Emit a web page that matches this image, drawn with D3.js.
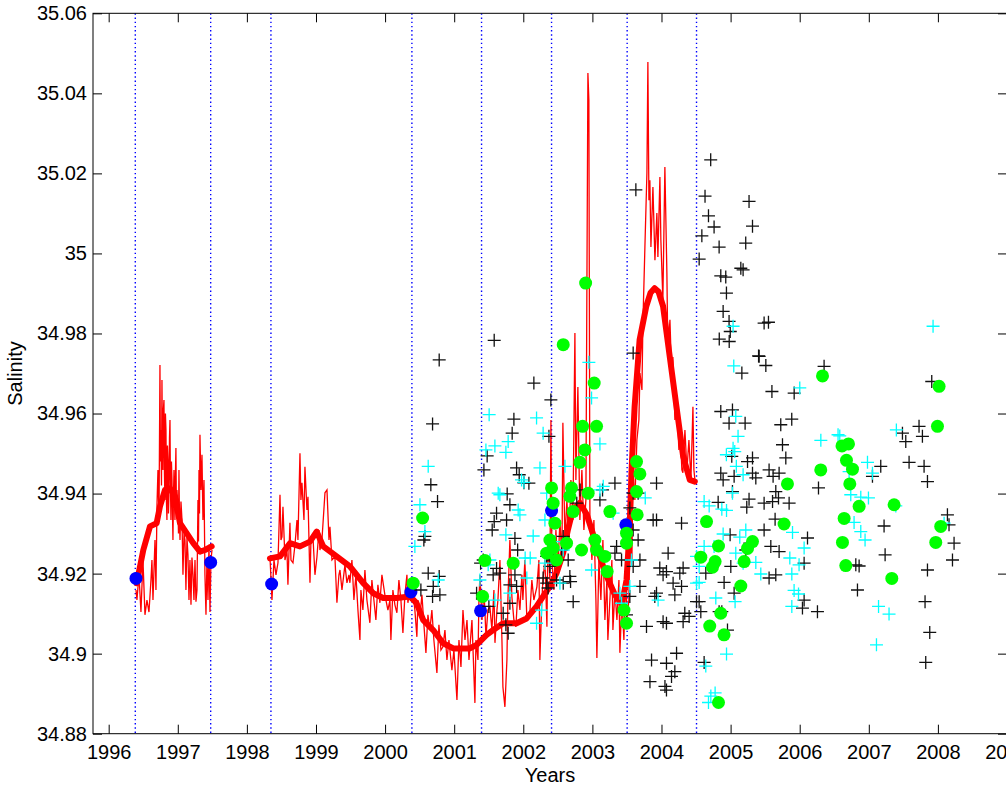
<!DOCTYPE html>
<html>
<head>
<meta charset="utf-8">
<script src="https://cdn.jsdelivr.net/npm/d3@7"></script>
<style>
  body { margin: 0; background: #fff; }
  svg { display: block; background: #fff; }
</style>
</head>
<body>
<svg width="1006" height="787"></svg>
<script>

// ---- data (decimal years, salinity) ----

let xTicks = [1996, 1997, 1998, 1999, 2000, 2001, 2002, 2003, 2004, 2005, 2006, 2007, 2008, 2009];
let yTicks = [34.88, 34.9, 34.92, 34.94, 34.96, 34.98, 35, 35.02, 35.04, 35.06];
let yTickLabels = ['34.88', '34.9', '34.92', '34.94', '34.96', '34.98', '35', '35.02', '35.04', '35.06'];

// mooring deployment / recovery dates
let cruiseDates = [1996.385, 1997.476, 1998.348, 2000.388, 2001.396, 2002.409, 2003.503, 2004.507];

// CTD salinity at the cruise dates
let cruiseSalinity = [
  [1996.395, 34.9188], [1997.476, 34.9228], [1998.358, 34.9174], [2000.374, 34.9154],
  [2001.382, 34.9107], [2002.409, 34.9357], [2003.484, 34.9322]
];

// smoothed mooring record
let smooth1 = [
  [1996.405, 34.9176], [1996.501, 34.9259], [1996.598, 34.9318], [1996.694, 34.9326], [1996.742, 34.9368],
  [1996.815, 34.9409], [1996.887, 34.9413], [1996.959, 34.9393], [1997.032, 34.9326], [1997.128, 34.9301],
  [1997.224, 34.9276], [1997.321, 34.9255], [1997.393, 34.9259], [1997.490, 34.9268]
];
let smooth2 = [
  [1998.334, 34.9238], [1998.479, 34.9243], [1998.623, 34.9276], [1998.768, 34.9268], [1998.913, 34.9280],
  [1999.009, 34.9305], [1999.105, 34.9268], [1999.299, 34.9243], [1999.491, 34.9218], [1999.684, 34.9176],
  [1999.828, 34.9151], [1999.973, 34.9139], [2000.167, 34.9139], [2000.359, 34.9143], [2000.456, 34.9126],
  [2000.552, 34.9084], [2000.696, 34.9059], [2000.841, 34.9026], [2000.986, 34.9013], [2001.227, 34.9013],
  [2001.324, 34.9022], [2001.469, 34.9047], [2001.564, 34.9059], [2001.709, 34.9076], [2001.903, 34.9076],
  [2002.048, 34.9088], [2002.192, 34.9118], [2002.287, 34.9143], [2002.385, 34.9168], [2002.481, 34.9201],
  [2002.577, 34.9252], [2002.645, 34.9309], [2002.717, 34.9359], [2002.819, 34.9377], [2002.920, 34.9347],
  [2003.036, 34.9284], [2003.180, 34.9204], [2003.325, 34.9147], [2003.427, 34.9124], [2003.494, 34.9184],
  [2003.538, 34.9309], [2003.567, 34.9459], [2003.611, 34.9617], [2003.683, 34.9784], [2003.780, 34.9868],
  [2003.842, 34.9902], [2003.900, 34.9913], [2003.958, 34.9904], [2004.023, 34.9868], [2004.119, 34.9743],
  [2004.216, 34.9618], [2004.313, 34.9493], [2004.410, 34.9434], [2004.482, 34.9430]
];

// raw mooring record
let raw1 = [
  [1996.395, 34.9159], [1996.409, 34.9134], [1996.438, 34.9197], [1996.467, 34.9104], [1996.496, 34.9234],
  [1996.525, 34.9097], [1996.554, 34.9134], [1996.583, 34.9104], [1996.612, 34.9184], [1996.626, 34.9234],
  [1996.641, 34.9134], [1996.670, 34.9284], [1996.684, 34.9159], [1996.699, 34.9372], [1996.713, 34.9459],
  [1996.728, 34.9334], [1996.742, 34.9721], [1996.749, 34.9480], [1996.756, 34.9559], [1996.764, 34.9420],
  [1996.771, 34.9684], [1996.778, 34.9500], [1996.785, 34.9459], [1996.792, 34.9610], [1996.800, 34.9634],
  [1996.807, 34.9450], [1996.814, 34.9384], [1996.821, 34.9600], [1996.829, 34.9559], [1996.836, 34.9380],
  [1996.843, 34.9334], [1996.850, 34.9520], [1996.858, 34.9484], [1996.865, 34.9350], [1996.872, 34.9397],
  [1996.880, 34.9540], [1996.887, 34.9584], [1996.894, 34.9420], [1996.901, 34.9334], [1996.908, 34.9480],
  [1996.916, 34.9434], [1996.923, 34.9350], [1996.930, 34.9284], [1996.938, 34.9400], [1996.945, 34.9459],
  [1996.952, 34.9380], [1996.959, 34.9334], [1996.966, 34.9450], [1996.973, 34.9514], [1996.980, 34.9360],
  [1996.988, 34.9409], [1997.003, 34.9359], [1997.010, 34.9300], [1997.017, 34.9459], [1997.025, 34.9330],
  [1997.032, 34.9284], [1997.046, 34.9380], [1997.061, 34.9334], [1997.075, 34.9197], [1997.090, 34.9300],
  [1997.104, 34.9284], [1997.118, 34.9159], [1997.133, 34.9290], [1997.147, 34.9247], [1997.162, 34.9134],
  [1997.176, 34.9234], [1997.191, 34.9122], [1997.205, 34.9240], [1997.220, 34.9197], [1997.234, 34.9134],
  [1997.249, 34.9234], [1997.263, 34.9130], [1997.278, 34.9159], [1997.292, 34.9384], [1997.300, 34.9280],
  [1997.307, 34.9459], [1997.314, 34.9350], [1997.321, 34.9547], [1997.336, 34.9409], [1997.350, 34.9497],
  [1997.364, 34.9334], [1997.379, 34.9434], [1997.393, 34.9197], [1997.408, 34.9097], [1997.422, 34.9234],
  [1997.437, 34.9134], [1997.451, 34.9272], [1997.466, 34.9104], [1997.480, 34.9234], [1997.495, 34.9259]
];
let raw2 = [
  [1998.334, 34.9242], [1998.363, 34.9134], [1998.392, 34.9234], [1998.421, 34.9197], [1998.450, 34.9227],
  [1998.479, 34.9397], [1998.493, 34.9284], [1998.508, 34.9292], [1998.522, 34.9367], [1998.551, 34.9234],
  [1998.580, 34.9259], [1998.594, 34.9172], [1998.623, 34.9327], [1998.638, 34.9234], [1998.667, 34.9227],
  [1998.696, 34.9272], [1998.725, 34.9334], [1998.739, 34.9284], [1998.768, 34.9501], [1998.782, 34.9384],
  [1998.797, 34.9427], [1998.826, 34.9334], [1998.840, 34.9467], [1998.869, 34.9359], [1998.884, 34.9392],
  [1998.913, 34.9177], [1998.927, 34.9284], [1998.956, 34.9292], [1998.985, 34.9197], [1999.014, 34.9242],
  [1999.043, 34.9309], [1999.057, 34.9259], [1999.086, 34.9284], [1999.130, 34.9402], [1999.159, 34.9409],
  [1999.188, 34.9284], [1999.202, 34.9317], [1999.231, 34.9234], [1999.274, 34.9242], [1999.303, 34.9127],
  [1999.332, 34.9197], [1999.347, 34.9209], [1999.376, 34.9159], [1999.419, 34.9222], [1999.448, 34.9177],
  [1999.477, 34.9197], [1999.491, 34.9177], [1999.520, 34.9234], [1999.549, 34.9134], [1999.578, 34.9197],
  [1999.607, 34.9109], [1999.636, 34.9034], [1999.650, 34.9159], [1999.679, 34.9109], [1999.708, 34.9209],
  [1999.737, 34.9134], [1999.780, 34.9077], [1999.809, 34.9184], [1999.838, 34.9134], [1999.867, 34.9084],
  [1999.896, 34.9172], [1999.925, 34.9127], [1999.954, 34.9197], [1999.997, 34.9147], [2000.041, 34.9109],
  [2000.070, 34.9134], [2000.084, 34.9034], [2000.113, 34.9159], [2000.142, 34.9122], [2000.171, 34.9102],
  [2000.200, 34.9184], [2000.229, 34.9134], [2000.258, 34.9052], [2000.287, 34.9147], [2000.316, 34.9197],
  [2000.330, 34.9127], [2000.359, 34.9159], [2000.388, 34.9184], [2000.402, 34.9152], [2000.431, 34.9109],
  [2000.460, 34.9042], [2000.475, 34.9134], [2000.504, 34.9092], [2000.533, 34.9147], [2000.562, 34.9072],
  [2000.591, 34.9002], [2000.620, 34.9097], [2000.648, 34.9059], [2000.677, 34.9109], [2000.706, 34.9034],
  [2000.750, 34.8952], [2000.779, 34.9072], [2000.808, 34.9009], [2000.837, 34.9017], [2000.866, 34.9059],
  [2000.895, 34.8984], [2000.924, 34.9034], [2000.967, 34.8959], [2000.996, 34.9009], [2001.040, 34.8884],
  [2001.069, 34.9034], [2001.098, 34.8967], [2001.127, 34.9109], [2001.156, 34.9034], [2001.185, 34.9084],
  [2001.214, 34.8984], [2001.228, 34.9017], [2001.257, 34.9084], [2001.300, 34.8877], [2001.315, 34.9034],
  [2001.344, 34.8984], [2001.358, 34.9134], [2001.373, 34.9197], [2001.402, 34.9084], [2001.431, 34.9159],
  [2001.460, 34.9042], [2001.488, 34.9109], [2001.517, 34.9117], [2001.546, 34.9059], [2001.575, 34.9159],
  [2001.590, 34.9027], [2001.619, 34.9109], [2001.633, 34.9134], [2001.662, 34.9234], [2001.691, 34.9034],
  [2001.705, 34.8917], [2001.734, 34.8867], [2001.763, 34.8984], [2001.777, 34.9134], [2001.806, 34.9284],
  [2001.835, 34.9142], [2001.864, 34.9084], [2001.893, 34.9067], [2001.922, 34.9159], [2001.951, 34.9109],
  [2001.980, 34.9197], [2001.994, 34.9134], [2002.023, 34.9234], [2002.052, 34.9084], [2002.095, 34.9102],
  [2002.124, 34.9184], [2002.153, 34.9134], [2002.197, 34.9167], [2002.226, 34.9234], [2002.240, 34.8984],
  [2002.269, 34.9134], [2002.284, 34.9184], [2002.313, 34.9234], [2002.342, 34.9067], [2002.356, 34.9284],
  [2002.385, 34.9184], [2002.400, 34.9584], [2002.414, 34.9234], [2002.443, 34.9159], [2002.472, 34.9309],
  [2002.501, 34.9209], [2002.530, 34.9334], [2002.559, 34.9234], [2002.573, 34.9577], [2002.602, 34.9284],
  [2002.631, 34.9384], [2002.660, 34.9272], [2002.689, 34.9434], [2002.718, 34.9334], [2002.747, 34.9801],
  [2002.761, 34.9434], [2002.790, 34.9666], [2002.819, 34.9334], [2002.848, 34.9459], [2002.877, 34.9309],
  [2002.906, 34.9384], [2002.935, 35.0451], [2002.949, 35.0384], [2002.964, 34.9334], [2002.993, 34.9234],
  [2003.022, 34.9334], [2003.051, 34.9134], [2003.065, 34.8989], [2003.094, 34.9234], [2003.123, 34.9134],
  [2003.152, 34.9284], [2003.181, 34.9084], [2003.210, 34.9184], [2003.224, 34.9034], [2003.253, 34.9134],
  [2003.282, 34.9234], [2003.297, 34.9059], [2003.326, 34.9159], [2003.355, 34.9084], [2003.384, 34.9184],
  [2003.398, 34.9002], [2003.427, 34.9134], [2003.456, 34.9034], [2003.485, 34.9234], [2003.499, 34.9084],
  [2003.528, 34.9134], [2003.543, 34.9334], [2003.572, 34.9234], [2003.586, 34.9459], [2003.615, 34.9384],
  [2003.644, 34.9534], [2003.673, 34.9584], [2003.688, 34.9701], [2003.717, 34.9659], [2003.731, 34.9826],
  [2003.760, 35.0016], [2003.789, 35.0201], [2003.803, 35.0478], [2003.818, 35.0133], [2003.832, 35.0183],
  [2003.847, 35.0016], [2003.876, 35.0166], [2003.905, 34.9983], [2003.933, 35.0101], [2003.948, 34.9991],
  [2003.977, 35.0191], [2003.991, 35.0033], [2004.020, 34.9884], [2004.049, 35.0216], [2004.078, 34.9951],
  [2004.093, 34.9741], [2004.122, 34.9834], [2004.150, 34.9684], [2004.165, 34.9741], [2004.194, 34.9584],
  [2004.223, 34.9617], [2004.252, 34.9509], [2004.266, 34.9576], [2004.295, 34.9459], [2004.310, 34.9452],
  [2004.339, 34.9559], [2004.368, 34.9459], [2004.397, 34.9534], [2004.426, 34.9434], [2004.455, 34.9617],
  [2004.469, 34.9459], [2004.484, 34.9434]
];

// profile data (black +)
let blackProfiles = [
  [2001.579, 34.9783], [2000.783, 34.9734], [2002.153, 34.9676], [2002.399, 34.9634], [2000.687, 34.9574],
  [2001.864, 34.9586], [2001.839, 34.9551], [2002.371, 34.9543], [2003.590, 34.9751], [2001.477, 34.9494],
  [2001.430, 34.9459], [2001.903, 34.9464], [2001.941, 34.9447], [2002.009, 34.9427], [2002.081, 34.9426],
  [2000.662, 34.9422], [2000.759, 34.9380], [2001.767, 34.9399], [2001.806, 34.9372], [2001.758, 34.9334],
  [2001.613, 34.9351], [2001.579, 34.9330], [2001.550, 34.9309], [2001.879, 34.9288], [2000.576, 34.9293],
  [2000.561, 34.9284], [2001.918, 34.9259], [2001.420, 34.9234], [2001.382, 34.9226], [2001.613, 34.9213],
  [2001.661, 34.9201], [2000.624, 34.9201], [2000.783, 34.9193], [2000.697, 34.9168], [2000.793, 34.9147],
  [2000.687, 34.9143], [2000.518, 34.9159], [2001.324, 34.9151], [2001.502, 34.9118], [2001.709, 34.9101],
  [2001.748, 34.9072], [2001.781, 34.9051], [2001.903, 34.9168], [2001.879, 34.9197], [2002.578, 34.9293],
  [2002.555, 34.9259], [2002.650, 34.9234], [2002.338, 34.9243], [2002.385, 34.9218], [2002.433, 34.9234],
  [2002.674, 34.9193], [2002.684, 34.9180], [2002.722, 34.9130], [2002.338, 34.9176], [2002.822, 34.9409],
  [2002.774, 34.9376], [2003.109, 34.9384], [2003.326, 34.9426], [2003.147, 34.9409], [2002.578, 34.9176],
  [2003.928, 34.9426], [2003.590, 34.9401], [2003.662, 34.9401], [2003.542, 34.9364], [2003.590, 34.9309],
  [2003.662, 34.9284], [2003.350, 34.9268], [2003.422, 34.9234], [2003.326, 34.9251], [2003.688, 34.9234],
  [2003.590, 34.9218], [2003.688, 34.9168], [2003.542, 34.9143], [2003.928, 34.9334], [2003.879, 34.9334],
  [2004.290, 34.9326], [2004.096, 34.9251], [2003.975, 34.9214], [2004.072, 34.9205], [2004.023, 34.9197],
  [2004.265, 34.9201], [2004.313, 34.9214], [2004.168, 34.9176], [2004.290, 34.9168], [2003.928, 34.9151],
  [2003.903, 34.9143], [2004.193, 34.9147], [2004.507, 34.9130], [2003.783, 34.9068], [2004.023, 34.9080],
  [2004.072, 34.9076], [2004.337, 34.9101], [2004.313, 34.9080], [2003.494, 34.9097], [2003.856, 34.8984],
  [2004.218, 34.9001], [2004.072, 34.8976], [2004.193, 34.8955], [2004.145, 34.8943], [2003.833, 34.8930],
  [2004.050, 34.8918], [2004.072, 34.8909], [2002.287, 34.9189], [2002.359, 34.9164], [2001.564, 34.9197],
  [2001.806, 34.9126], [2001.806, 34.9172], [2002.481, 34.9184], [2003.629, 35.0159],
  [2004.712, 35.0234], [2004.630, 35.0143], [2005.267, 35.0130], [2004.680, 35.0094], [2004.761, 35.0066],
  [2005.317, 35.0068], [2004.584, 35.0044], [2004.834, 35.0016], [2005.219, 35.0026], [2004.545, 34.9986],
  [2005.148, 34.9963], [2005.181, 34.9959], [2004.858, 34.9944], [2004.930, 34.9941], [2004.940, 34.9901],
  [2004.892, 34.9855], [2004.978, 34.9830], [2005.485, 34.9826], [2005.548, 34.9828], [2004.995, 34.9805],
  [2004.836, 34.9786], [2004.980, 34.9780], [2005.405, 34.9744], [2005.413, 34.9743], [2005.510, 34.9720],
  [2005.163, 34.9701], [2006.353, 34.9718], [2005.598, 34.9655], [2005.920, 34.9651], [2007.911, 34.9680],
  [2004.858, 34.9605], [2005.027, 34.9609], [2004.978, 34.9576], [2005.210, 34.9576], [2005.726, 34.9572],
  [2005.885, 34.9586], [2007.727, 34.9568], [2007.487, 34.9551], [2007.776, 34.9543], [2005.751, 34.9522],
  [2005.799, 34.9489], [2005.017, 34.9493], [2005.317, 34.9489], [2005.245, 34.9480], [2004.858, 34.9451],
  [2005.051, 34.9443], [2004.892, 34.9434], [2005.317, 34.9451], [2005.365, 34.9439], [2005.557, 34.9459],
  [2005.615, 34.9443], [2005.702, 34.9451], [2005.654, 34.9405], [2005.693, 34.9389], [2005.027, 34.9405],
  [2005.267, 34.9386], [2005.234, 34.9366], [2005.485, 34.9376], [2005.607, 34.9380], [2005.847, 34.9376],
  [2004.820, 34.9378], [2005.644, 34.9336], [2005.485, 34.9309], [2004.993, 34.9297], [2005.278, 34.9276],
  [2005.220, 34.9259], [2005.582, 34.9268], [2005.702, 34.9255], [2006.113, 34.9289], [2006.064, 34.9226],
  [2005.003, 34.9218], [2004.641, 34.9201], [2005.557, 34.9189], [2005.654, 34.9197], [2004.906, 34.9178],
  [2005.051, 34.9151], [2006.064, 34.9134], [2006.040, 34.9114], [2006.257, 34.9105], [2004.545, 34.9130],
  [2004.569, 34.9105], [2004.834, 34.9105], [2004.873, 34.9105], [2004.955, 34.9059], [2004.400, 34.9093],
  [2004.617, 34.8978], [2006.272, 34.9414], [2007.173, 34.9468], [2007.053, 34.9443], [2007.583, 34.9478],
  [2007.800, 34.9468], [2007.849, 34.9430], [2007.535, 34.9530], [2007.221, 34.9319], [2007.236, 34.9247],
  [2006.812, 34.9222], [2006.860, 34.9219], [2006.836, 34.9159], [2008.138, 34.9347], [2008.161, 34.9322],
  [2008.234, 34.9276], [2008.211, 34.9234], [2007.849, 34.9209], [2007.814, 34.9130], [2007.882, 34.9053],
  [2007.824, 34.8978]
];

// profile data (cyan +)
let cyanProfiles = [
  [2002.949, 34.9728], [2002.988, 34.9639], [2003.109, 34.9524], [2001.506, 34.9597], [2002.192, 34.9589],
  [2002.287, 34.9551], [2000.624, 34.9468], [2001.459, 34.9509], [2001.589, 34.9519], [2001.748, 34.9503],
  [2001.781, 34.9530], [2002.241, 34.9464], [2002.603, 34.9468], [2000.504, 34.9372], [2000.576, 34.9305],
  [2000.431, 34.9268], [2001.637, 34.9401], [2001.661, 34.9397], [2001.975, 34.9434], [2002.009, 34.9428],
  [2001.926, 34.9359], [2001.951, 34.9347], [2001.748, 34.9297], [2002.143, 34.9294], [2002.338, 34.9401],
  [2002.313, 34.9334], [2002.458, 34.9280], [2002.578, 34.9259], [2003.157, 34.9418], [2003.765, 34.9389],
  [2003.300, 34.9351], [2001.517, 34.9234], [2001.372, 34.9184], [2001.492, 34.9222], [2002.027, 34.9239],
  [2002.100, 34.9239], [2002.313, 34.9226], [2002.051, 34.9189], [2001.806, 34.9151], [2001.589, 34.9134],
  [2002.530, 34.9176], [2002.988, 34.9209], [2003.398, 34.9151], [2003.422, 34.9126], [2003.542, 34.9168],
  [2003.566, 34.9234], [2002.264, 34.9109], [2002.192, 34.9076], [2003.951, 34.9134], [2004.507, 34.9243],
  [2004.507, 34.9176], [2000.769, 34.9184], [2003.109, 34.9409],
  [2005.036, 34.9818], [2005.046, 34.9719], [2006.001, 34.9664], [2007.930, 34.9818], [2005.075, 34.9593],
  [2005.108, 34.9543], [2006.555, 34.9547], [2007.399, 34.9559], [2005.036, 34.9513], [2004.939, 34.9497],
  [2005.060, 34.9505], [2005.083, 34.9468], [2005.181, 34.9447], [2005.027, 34.9401], [2004.617, 34.9380],
  [2004.690, 34.9369], [2004.873, 34.9361], [2004.941, 34.9358], [2005.220, 34.9309], [2005.133, 34.9291],
  [2004.892, 34.9299], [2004.617, 34.9268], [2004.761, 34.9268], [2005.075, 34.9251], [2005.181, 34.9226],
  [2005.365, 34.9228], [2005.437, 34.9199], [2004.545, 34.9218], [2004.545, 34.9178], [2004.786, 34.9139],
  [2005.065, 34.9130], [2005.896, 34.9303], [2006.064, 34.9264], [2005.857, 34.9239], [2005.886, 34.9199],
  [2005.991, 34.9222], [2005.919, 34.9158], [2005.983, 34.9149], [2005.886, 34.9118], [2006.306, 34.9533],
  [2006.580, 34.9544], [2006.715, 34.9455], [2006.981, 34.9478], [2007.053, 34.9451], [2006.739, 34.9397],
  [2006.995, 34.9389], [2006.884, 34.9391], [2006.787, 34.9328], [2006.884, 34.9305], [2006.946, 34.9284],
  [2007.391, 34.9369], [2007.141, 34.9118], [2007.293, 34.9099], [2007.111, 34.9022], [2008.090, 34.9326],
  [2004.941, 34.8999], [2004.641, 34.8969], [2004.776, 34.8902], [2004.714, 34.8894], [2004.680, 34.8878]
];

// profile data (green dots)
let greenProfiles = [
  [2002.578, 34.9772], [2002.902, 34.9926], [2003.026, 34.9676], [2002.858, 34.9568], [2003.060, 34.9568],
  [2002.891, 34.9509], [2002.819, 34.9478], [2002.409, 34.9414], [2002.698, 34.9414], [2002.939, 34.9401],
  [2002.674, 34.9393], [2002.432, 34.9376], [2002.722, 34.9355], [2002.457, 34.9326], [2003.253, 34.9355],
  [2003.639, 34.9480], [2003.687, 34.9449], [2003.639, 34.9405], [2003.648, 34.9347], [2003.494, 34.9301],
  [2003.494, 34.9276], [2002.385, 34.9284], [2002.433, 34.9264], [2002.626, 34.9276], [2002.481, 34.9234],
  [2002.338, 34.9251], [2002.843, 34.9259], [2003.036, 34.9284], [2003.060, 34.9259], [2003.180, 34.9243],
  [2003.214, 34.9205], [2001.854, 34.9226], [2001.444, 34.9233], [2001.411, 34.9143], [2000.543, 34.9339],
  [2000.407, 34.9176], [2003.457, 34.9109], [2003.494, 34.9076],
  [2006.330, 34.9694], [2008.017, 34.9668], [2007.994, 34.9568], [2006.612, 34.9519], [2006.706, 34.9524],
  [2006.305, 34.9459], [2006.677, 34.9483], [2006.764, 34.9461], [2006.725, 34.9424], [2005.823, 34.9424],
  [2006.860, 34.9368], [2007.366, 34.9372], [2006.643, 34.9338], [2005.774, 34.9324], [2004.652, 34.9330],
  [2008.041, 34.9318], [2007.969, 34.9278], [2006.619, 34.9278], [2006.667, 34.9220], [2007.333, 34.9188],
  [2005.317, 34.9280], [2005.245, 34.9263], [2004.825, 34.9269], [2004.569, 34.9241], [2004.776, 34.9230],
  [2004.738, 34.9216], [2005.196, 34.9230], [2005.148, 34.9169], [2004.858, 34.9101], [2004.698, 34.9069],
  [2004.905, 34.9047], [2004.825, 34.8878]
];


// ---- chart ----

let svg = d3.select('svg');
let font = '"Liberation Sans", Arial, Helvetica, sans-serif';

let box = { left: 93, right: 1007, top: 13.3, bottom: 733.7 };

let x = d3.scaleLinear()
    .domain([1995.773, 2009])
    .range([box.left, box.right]);

let y = d3.scaleLinear()
    .domain([34.88, 35.06])
    .range([box.bottom, box.top]);

svg.append('rect')
    .attr('width', 1006).attr('height', 787)
    .attr('fill', '#fff');

svg.append('clipPath').attr('id', 'plot')
    .append('rect')
    .attr('x', box.left).attr('y', box.top)
    .attr('width', box.right - box.left).attr('height', box.bottom - box.top);

let plot = svg.append('g').attr('clip-path', 'url(#plot)');

// dotted cruise lines
plot.append('g').selectAll('line')
    .data(cruiseDates)
    .enter().append('line')
    .attr('x1', d => x(d)).attr('x2', d => x(d))
    .attr('y1', y(35.06)).attr('y2', y(34.88))
    .attr('stroke', '#0000ff')
    .attr('stroke-width', 1.4)
    .attr('stroke-dasharray', '1.4,2.8');

let line = d3.line()
    .x(d => x(d[0]))
    .y(d => y(d[1]));

// raw and smoothed mooring salinity
plot.append('g').selectAll('path')
    .data([raw1, raw2])
    .enter().append('path')
    .attr('d', line)
    .attr('fill', 'none')
    .attr('stroke', '#ff0000')
    .attr('stroke-width', 1.3);

plot.append('g').selectAll('path')
    .data([smooth1, smooth2])
    .enter().append('path')
    .attr('d', line)
    .attr('fill', 'none')
    .attr('stroke', '#ff0000')
    .attr('stroke-width', 6)
    .attr('stroke-linejoin', 'round')
    .attr('stroke-linecap', 'round');

// CTD at cruise dates
plot.append('g').selectAll('circle')
    .data(cruiseSalinity)
    .enter().append('circle')
    .attr('cx', d => x(d[0]))
    .attr('cy', d => y(d[1]))
    .attr('r', 6.5)
    .attr('fill', '#0000ff');

let cross = 'M-6.5,0H6.5M0,-6.5V6.5';

plot.append('g').selectAll('path')
    .data(blackProfiles)
    .enter().append('path')
    .attr('transform', d => 'translate(' + x(d[0]) + ',' + y(d[1]) + ')')
    .attr('d', cross)
    .attr('stroke', '#111')
    .attr('stroke-width', 1.3);

plot.append('g').selectAll('path')
    .data(cyanProfiles)
    .enter().append('path')
    .attr('transform', d => 'translate(' + x(d[0]) + ',' + y(d[1]) + ')')
    .attr('d', cross)
    .attr('stroke', '#00ffff')
    .attr('stroke-width', 1.3);

plot.append('g').selectAll('circle')
    .data(greenProfiles)
    .enter().append('circle')
    .attr('cx', d => x(d[0]))
    .attr('cy', d => y(d[1]))
    .attr('r', 6.5)
    .attr('fill', '#00ff00');


// ---- axes ----

function styleAxis(g) {
    g.attr('font-size', 20).attr('font-family', font);
    g.select('.domain').remove();
    g.selectAll('line').attr('stroke', '#000');
    g.selectAll('text').attr('fill', '#000');
}

svg.append('g')
    .attr('transform', 'translate(0,' + box.bottom + ')')
    .call(d3.axisBottom(x).tickValues(xTicks).tickSize(-9).tickSizeOuter(0)
        .tickPadding(11).tickFormat(d3.format('d')))
    .call(styleAxis);

svg.append('g')
    .attr('transform', 'translate(0,' + box.top + ')')
    .call(d3.axisTop(x).tickValues(xTicks).tickSize(-9).tickSizeOuter(0).tickFormat(''))
    .call(styleAxis);

svg.append('g')
    .attr('transform', 'translate(' + box.left + ',0)')
    .call(d3.axisLeft(y).tickValues(yTicks).tickSize(-9).tickSizeOuter(0)
        .tickPadding(6).tickFormat((d, i) => yTickLabels[i]))
    .call(styleAxis);

svg.append('g')
    .attr('transform', 'translate(' + box.right + ',0)')
    .call(d3.axisRight(y).tickValues(yTicks).tickSize(-9).tickSizeOuter(0).tickFormat(''))
    .call(styleAxis);

svg.append('rect')
    .attr('x', box.left).attr('y', box.top)
    .attr('width', box.right - box.left).attr('height', box.bottom - box.top)
    .attr('fill', 'none')
    .attr('stroke', '#000')
    .attr('stroke-width', 1);

svg.append('text')
    .attr('x', (box.left + box.right) / 2)
    .attr('y', 782)
    .attr('text-anchor', 'middle')
    .attr('font-family', font)
    .attr('font-size', 20)
    .text('Years');

svg.append('text')
    .attr('transform', 'translate(22,' + (box.top + box.bottom) / 2 + ') rotate(-90)')
    .attr('text-anchor', 'middle')
    .attr('font-family', font)
    .attr('font-size', 20)
    .text('Salinity');

</script>
</body>
</html>
